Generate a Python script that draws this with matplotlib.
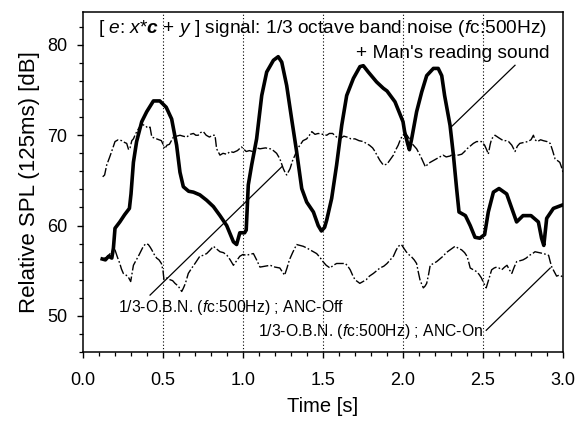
import matplotlib
matplotlib.use("Agg")
import matplotlib.pyplot as plt
from matplotlib.ticker import MultipleLocator, FormatStrFormatter

plt.rcParams['font.family'] = ['Liberation Sans', 'DejaVu Sans']
plt.rcParams['mathtext.fontset'] = 'custom'
plt.rcParams['mathtext.rm'] = 'Liberation Sans'
plt.rcParams['mathtext.it'] = 'Liberation Sans:italic'
plt.rcParams['mathtext.bf'] = 'Liberation Sans:bold'
plt.rcParams['mathtext.bfit'] = 'Liberation Sans:italic:bold'

# e signal: band noise + man's reading sound
t_e = [0.12, 0.14, 0.16, 0.18, 0.19, 0.20, 0.23, 0.26, 0.29, 0.30, 0.315, 0.335, 0.367,
       0.398, 0.44, 0.48, 0.52, 0.554, 0.585, 0.606, 0.627, 0.66, 0.69, 0.73, 0.773,
       0.815, 0.856, 0.898, 0.94, 0.96, 0.98, 1.01, 1.02, 1.033, 1.054, 1.085, 1.117,
       1.148, 1.19, 1.22, 1.242, 1.273, 1.304, 1.335, 1.367, 1.398, 1.44, 1.47, 1.49,
       1.51, 1.523, 1.554, 1.585, 1.617, 1.648, 1.69, 1.731, 1.752, 1.783, 1.835, 1.877,
       1.9, 1.95, 2.0, 2.01, 2.03, 2.04, 2.054, 2.085, 2.117, 2.148, 2.19, 2.22, 2.242,
       2.26, 2.294, 2.315, 2.335, 2.35, 2.39, 2.42, 2.45, 2.48, 2.51, 2.533, 2.565, 2.6,
       2.648, 2.68, 2.71, 2.75, 2.8, 2.846, 2.866, 2.88, 2.898, 2.94, 3.0]
spl_e = [56.3, 56.2, 56.6, 56.4, 57.5, 59.7, 60.4, 61.2, 61.9, 63.5, 67.0, 69.3, 71.5,
         72.6, 73.8, 73.8, 73.1, 71.8, 68.9, 65.9, 64.3, 63.8, 63.7, 63.4, 62.8,
         62.1, 61.1, 60.0, 58.2, 57.9, 59.2, 59.2, 59.5, 64.5, 66.7, 69.6, 74.4,
         77.0, 78.3, 78.7, 78.1, 75.5, 71.8, 68.2, 64.1, 62.6, 61.5, 60.0, 59.4,
         59.8, 60.6, 63.0, 66.7, 71.1, 74.4, 76.3, 77.6, 77.7, 77.0, 75.9, 75.2,
         74.9, 73.7, 71.5, 70.4, 69.0, 68.4, 69.6, 72.6, 74.8, 76.6, 77.4, 77.4, 76.6,
         74.4, 71.1, 67.8, 64.1, 61.5, 61.1, 60.0, 58.7, 58.6, 59.0, 61.5, 63.7, 64.1,
         63.5, 61.9, 60.4, 61.1, 61.1, 60.4, 58.6, 57.8, 60.8, 61.9, 62.3]

# band noise, ANC off
t_off = [0.123, 0.135, 0.148, 0.165, 0.179, 0.2, 0.22, 0.242, 0.26, 0.273, 0.285, 0.294,
         0.305, 0.315, 0.33, 0.346, 0.365, 0.387, 0.405, 0.419, 0.43, 0.445, 0.46, 0.49,
         0.5, 0.51, 0.525, 0.54, 0.565, 0.585, 0.606, 0.625, 0.648, 0.67, 0.69, 0.705,
         0.72, 0.735, 0.752, 0.77, 0.79, 0.81, 0.825, 0.83, 0.835, 0.856, 0.875, 0.898,
         0.92, 0.94, 0.965, 0.99, 1.02, 1.04, 1.06, 1.085, 1.106, 1.14, 1.17, 1.19, 1.21,
         1.23, 1.252, 1.265, 1.273, 1.285, 1.294, 1.31, 1.325, 1.34, 1.356, 1.375, 1.398,
         1.415, 1.43, 1.45, 1.47, 1.5, 1.523, 1.54, 1.56, 1.585, 1.606, 1.63, 1.65, 1.675,
         1.7, 1.725, 1.752, 1.77, 1.79, 1.81, 1.825, 1.84, 1.856, 1.877, 1.9, 1.92, 1.94,
         1.955, 1.97, 1.985, 2.0, 2.01, 2.025, 2.04, 2.06, 2.085, 2.1, 2.117, 2.13, 2.14,
         2.155, 2.17, 2.19, 2.21, 2.23, 2.25, 2.27, 2.294, 2.31, 2.325, 2.345, 2.367,
         2.385, 2.4, 2.42, 2.44, 2.46, 2.49, 2.51, 2.525, 2.533, 2.545, 2.554, 2.575, 2.6,
         2.627, 2.645, 2.66, 2.68, 2.7, 2.715, 2.73, 2.755, 2.78, 2.8, 2.815, 2.825, 2.84,
         2.86, 2.877, 2.9, 2.92, 2.935, 2.95, 2.965, 2.98, 2.99, 3.0]
spl_off = [65.4, 65.6, 66.7, 67.5, 68.2, 69.3, 69.5, 69.4, 69.2, 69.1, 68.4, 68.6,
           69.4, 69.6, 70.2, 70.7, 71.2, 71.1, 70.8, 70.9, 69.8, 69.7, 69.6, 69.4,
           69.0, 68.5, 68.9, 69.0, 69.8, 69.9, 70.0, 69.9, 69.8, 70.1, 70.2, 70.0,
           70.0, 70.3, 70.4, 70.0, 69.8, 70.0, 70.0, 69.2, 68.5, 67.8, 68.0, 67.9,
           68.2, 68.1, 68.3, 68.7, 68.2, 68.3, 68.2, 68.6, 68.5, 68.6, 68.5, 68.3, 68.0,
           67.4, 66.3, 65.8, 65.6, 66.0, 66.3, 67.2, 67.8, 68.5, 68.9, 69.4, 69.6,
           70.0, 70.4, 70.1, 70.2, 70.1, 70.0, 70.2, 70.2, 69.8, 69.6, 69.9, 69.8, 69.6,
           69.6, 69.4, 69.3, 69.1, 68.9, 68.6, 68.2, 67.7, 67.2, 66.7, 66.8, 67.3, 67.8,
           68.4, 68.9, 69.6, 70.0, 70.2, 70.0, 69.6, 69.0, 68.5, 68.0, 67.4, 66.9, 66.5,
           66.8, 67.0, 67.2, 67.4, 67.6, 67.8, 67.6, 67.7, 67.9, 67.8, 67.8, 67.9,
           68.2, 68.5, 68.8, 69.1, 69.3, 69.3, 68.9, 68.3, 67.9, 69.0, 69.6, 70.0, 69.7,
           69.4, 69.4, 69.3, 68.9, 68.2, 68.8, 69.1, 69.2, 69.3, 69.5, 70.0, 69.5, 69.3,
           69.5, 69.4, 69.3, 69.1, 68.3, 67.4, 67.2, 67.0, 66.5, 65.9]

# band noise, ANC on
t_on = [0.123, 0.15, 0.17, 0.19, 0.2, 0.215, 0.23, 0.24, 0.252, 0.27, 0.283, 0.298,
        0.315, 0.33, 0.346, 0.36, 0.377, 0.393, 0.408, 0.42, 0.43, 0.445, 0.46, 0.475,
        0.49, 0.5, 0.506, 0.525, 0.544, 0.56, 0.575, 0.595, 0.617, 0.628, 0.64, 0.658,
        0.68, 0.7, 0.715, 0.73, 0.75, 0.773, 0.795, 0.815, 0.835, 0.856, 0.878, 0.9,
        0.92, 0.94, 0.96, 0.98, 1.0, 1.02, 1.04, 1.065, 1.085, 1.106, 1.14, 1.17, 1.2,
        1.23, 1.245, 1.26, 1.275, 1.29, 1.31, 1.335, 1.355, 1.377, 1.4, 1.42, 1.44, 1.46,
        1.48, 1.5, 1.52, 1.544, 1.565, 1.585, 1.61, 1.64, 1.655, 1.67, 1.685, 1.7, 1.715,
        1.73, 1.75, 1.77, 1.79, 1.815, 1.835, 1.856, 1.88, 1.9, 1.92, 1.94, 1.955, 1.97,
        1.99, 2.005, 2.02, 2.035, 2.05, 2.07, 2.085, 2.095, 2.106, 2.117, 2.127, 2.138,
        2.148, 2.16, 2.17, 2.19, 2.21, 2.23, 2.25, 2.27, 2.294, 2.31, 2.325, 2.345,
        2.367, 2.385, 2.4, 2.41, 2.42, 2.44, 2.46, 2.475, 2.49, 2.505, 2.52, 2.535,
        2.554, 2.57, 2.585, 2.6, 2.617, 2.635, 2.65, 2.665, 2.68, 2.695, 2.71, 2.73,
        2.75, 2.77, 2.79, 2.81, 2.825, 2.85, 2.877, 2.895, 2.91, 2.92, 2.93, 2.945,
        2.96, 2.975, 2.99, 3.0]
spl_on = [56.3, 56.5, 56.9, 57.3, 57.3, 56.5, 55.8, 55.2, 54.7, 54.5, 54.3, 53.8,
          55.6, 56.1, 56.6, 57.1, 57.7, 58.0, 57.9, 57.6, 57.3, 56.8, 56.4, 56.2,
          55.8, 55.0, 54.0, 54.2, 54.0, 53.9, 53.6, 53.3, 52.7, 53.1, 53.6, 54.7,
          55.3, 55.8, 56.2, 56.6, 56.7, 56.9, 57.3, 57.7, 57.4, 57.1, 57.0, 56.7,
          56.2, 55.6, 56.1, 56.6, 56.8, 56.7, 56.8, 56.9, 56.2, 55.4, 55.5, 55.6, 55.4,
          55.3, 54.9, 54.5, 55.3, 56.2, 57.0, 57.9, 57.8, 57.7, 57.5, 57.3, 57.1, 56.9,
          56.5, 56.0, 55.6, 55.3, 55.6, 55.8, 55.8, 55.8, 55.5, 55.1, 54.5, 54.0, 53.8,
          53.6, 53.8, 54.0, 54.4, 54.7, 55.0, 55.3, 55.5, 55.8, 56.2, 56.6, 57.2, 57.7,
          57.9, 57.5, 57.1, 56.8, 56.6, 56.2, 55.8, 54.9, 54.0, 53.5, 53.1, 53.3,
          53.6, 54.6, 55.6, 55.8, 56.0, 56.3, 56.6, 57.0, 57.3, 57.5, 57.7, 57.5,
          57.3, 57.0, 56.6, 56.0, 55.3, 55.1, 54.9, 54.6, 54.2, 53.6, 53.1, 54.0,
          55.1, 55.3, 55.4, 55.3, 55.1, 55.4, 55.6, 55.1, 54.7, 55.4, 56.0, 56.1,
          56.2, 56.4, 56.7, 56.9, 57.1, 57.0, 56.9, 56.8, 56.7, 56.0, 55.4, 54.9,
          54.4, 54.5, 54.4, 54.3]

grid_times = [0.5, 1.0, 1.5, 2.0, 2.5]

fig = plt.figure(figsize=(5.85, 4.25), dpi=100)
ax = fig.add_axes([0.1419, 0.1718, 0.8205, 0.80])

for gt in grid_times:
    ax.axvline(gt, color='black', lw=0.8, linestyle=(0, (1, 2)), zorder=1)

dashdot = (0, (7, 1.6, 1.2, 1.6))
ax.plot(t_off, spl_off, color='black', lw=1.0, linestyle=dashdot, zorder=2)
ax.plot(t_on, spl_on, color='black', lw=1.0, linestyle=dashdot, zorder=2)
ax.plot(t_e, spl_e, color='black', lw=2.6, solid_joinstyle='round', zorder=3)

ax.set_xlim(0, 3.0)
ax.set_ylim(46.0, 83.65)
ax.xaxis.set_major_locator(MultipleLocator(0.5))
ax.xaxis.set_minor_locator(MultipleLocator(0.1))
ax.yaxis.set_major_locator(MultipleLocator(10))
ax.yaxis.set_minor_locator(MultipleLocator(2))
ax.xaxis.set_major_formatter(FormatStrFormatter('%.1f'))
ax.tick_params(axis='both', which='major', direction='out', length=4.5, width=1.0,
               labelsize=13, color='black')
ax.tick_params(axis='both', which='minor', direction='out', length=3, width=0.9)
ax.tick_params(axis='x', which='major', pad=10)
ax.tick_params(axis='y', which='major', pad=7)
for sp in ax.spines.values():
    sp.set_linewidth(1.1)

ax.set_xlabel('Time [s]', fontsize=14.5, labelpad=6)
ax.set_ylabel('Relative SPL (125ms) [dB]', fontsize=16, labelpad=5)

ax.text(0.094, 81.77,
        r"[ $\mathit{e}$: $\mathit{x}$*$\mathbfit{c}$ + $\mathit{y}$ ] signal: 1/3 octave band noise ($\mathit{f}$c:500Hz)",
        fontsize=13.8, ha='left', va='center')
ax.text(2.9125, 79.1, "+ Man's reading sound", fontsize=13.8, ha='right', va='center')
ax.plot([2.70, 2.30], [77.75, 70.9], color='black', lw=0.9)

ax.text(0.219, 50.9, r"1/3-O.B.N. ($\mathit{f}$c:500Hz) ; ANC-Off", fontsize=11.3,
        ha='left', va='center')
ax.plot([0.419, 1.242], [52.3, 66.5], color='black', lw=0.9)

ax.text(2.50, 48.3, r"1/3-O.B.N. ($\mathit{f}$c:500Hz) ; ANC-On", fontsize=11.3,
        ha='right', va='center')
ax.plot([2.52, 2.92], [48.4, 55.3], color='black', lw=0.9)

fig.savefig('out.png', dpi=100)
